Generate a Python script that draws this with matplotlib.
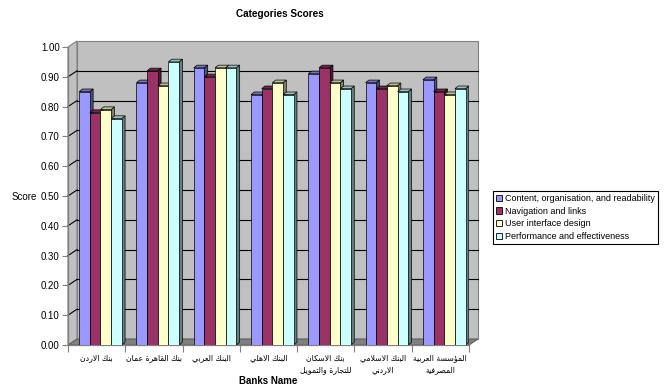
import matplotlib
matplotlib.use("Agg")
import matplotlib.pyplot as plt
from matplotlib.patches import Polygon, Patch
import numpy as np

# ---------------- data ----------------
banks = ["بنك الاردن", "بنك القاهرة عمان", "البنك العربي", "البنك الاهلي",
         "بنك الاسكان\nللتجارة والتمويل", "البنك الاسلامي\nالاردني",
         "المؤسسة العربية\nالمصرفية"]
series_names = ["Content, organisation, and readability", "Navigation and links",
                "User interface design", "Performance and effectiveness"]
content = [0.85, 0.88, 0.93, 0.84, 0.91, 0.88, 0.89]
navigation = [0.78, 0.92, 0.90, 0.86, 0.93, 0.86, 0.85]
interface = [0.79, 0.87, 0.93, 0.88, 0.88, 0.87, 0.84]
performance = [0.76, 0.95, 0.93, 0.84, 0.86, 0.85, 0.86]
yticks = [0.0, 0.1, 0.2, 0.3, 0.4, 0.5, 0.6, 0.7, 0.8, 0.9, 1.0]

face_colors = ["#9999FF", "#993366", "#FFFFCC", "#CCFFFF"]
side_colors = ["#4D4D80", "#4D1A33", "#808066", "#668080"]
top_colors = ["#7373BF", "#73264D", "#BFBF99", "#99BFBF"]

# ---------------- minimal Arabic shaping ----------------
FORMS = {  # isolated, final, initial, medial
    'ا': (0xFE8D, 0xFE8E, None, None), 'ب': (0xFE8F, 0xFE90, 0xFE91, 0xFE92),
    'ة': (0xFE93, 0xFE94, None, None), 'ت': (0xFE95, 0xFE96, 0xFE97, 0xFE98),
    'ج': (0xFE9D, 0xFE9E, 0xFE9F, 0xFEA0), 'د': (0xFEA9, 0xFEAA, None, None),
    'ر': (0xFEAD, 0xFEAE, None, None), 'س': (0xFEB1, 0xFEB2, 0xFEB3, 0xFEB4),
    'ص': (0xFEB9, 0xFEBA, 0xFEBB, 0xFEBC), 'ع': (0xFEC9, 0xFECA, 0xFECB, 0xFECC),
    'ف': (0xFED1, 0xFED2, 0xFED3, 0xFED4), 'ق': (0xFED5, 0xFED6, 0xFED7, 0xFED8),
    'ك': (0xFED9, 0xFEDA, 0xFEDB, 0xFEDC), 'ل': (0xFEDD, 0xFEDE, 0xFEDF, 0xFEE0),
    'م': (0xFEE1, 0xFEE2, 0xFEE3, 0xFEE4), 'ن': (0xFEE5, 0xFEE6, 0xFEE7, 0xFEE8),
    'ه': (0xFEE9, 0xFEEA, 0xFEEB, 0xFEEC), 'و': (0xFEED, 0xFEEE, None, None),
    'ي': (0xFEF1, 0xFEF2, 0xFEF3, 0xFEF4), 'ؤ': (0xFE85, 0xFE86, None, None),
    'لا': (0xFEFB, 0xFEFC, None, None),
}


def shape_line(s):
    toks = []
    i = 0
    while i < len(s):
        if s[i] == 'ل' and i + 1 < len(s) and s[i + 1] == 'ا':
            toks.append('لا')
            i += 2
        else:
            toks.append(s[i])
            i += 1
    out = []
    for j, t in enumerate(toks):
        if t not in FORMS:
            out.append(t)
            continue
        prev = toks[j - 1] if j > 0 else None
        nxt = toks[j + 1] if j + 1 < len(toks) else None
        jp = prev in FORMS and FORMS[prev][2] is not None
        jn = nxt in FORMS and FORMS[t][2] is not None
        iso, fin, ini, med = FORMS[t]
        if jp and jn:
            c = med
        elif jp:
            c = fin
        elif jn:
            c = ini
        else:
            c = iso
        out.append(chr(c))
    return ''.join(out)[::-1]


def shape(s):
    return "\n".join(shape_line(l) for l in s.split("\n"))


# ---------------- figure ----------------
W, H = 665, 387
fig = plt.figure(figsize=(W / 100, H / 100), dpi=100)
plt.rcParams['font.family'] = ['Liberation Sans', 'DejaVu Sans']

x0, x1, y0, y1 = 68, 469, 345, 47
ax = fig.add_axes([x0 / W, (H - y0) / H, (x1 - x0) / W, (y0 - y1) / H])
n = len(banks)
ax.set_xlim(0, n)
ax.set_ylim(0, 1)
ppx = (x1 - x0) / n
ppy = (y0 - y1)
dxw, dyw = 9 / ppx, 6 / ppy     # wall depth offset
dxb, dyb = 3.3 / ppx, 2.7 / ppy  # bar depth offset

for s in ax.spines.values():
    s.set_visible(False)

# walls
ax.add_patch(Polygon([(dxw, dyw), (n + dxw, dyw), (n + dxw, 1 + dyw), (dxw, 1 + dyw)],
                     closed=True, fc="#C0C0C0", ec="#808080", lw=0.8, zorder=0, clip_on=False))
ax.add_patch(Polygon([(0, 0), (dxw, dyw), (dxw, 1 + dyw), (0, 1)],
                     closed=True, fc="#C0C0C0", ec="#808080", lw=0.8, zorder=0, clip_on=False))
ax.add_patch(Polygon([(0, 0), (n, 0), (n + dxw, dyw), (dxw, dyw)],
                     closed=True, fc="#808080", ec="#606060", lw=0.8, zorder=0.5, clip_on=False))
for v in yticks[1:-1]:
    ax.plot([dxw, n + dxw], [v + dyw, v + dyw], color="black", lw=0.8, zorder=0.6, clip_on=False)
    ax.plot([0, dxw], [v, v + dyw], color="black", lw=0.8, zorder=0.6, clip_on=False)

# front axes lines
ax.plot([0, 0], [0, 1], color="#808080", lw=0.9, zorder=0.7, clip_on=False)
ax.plot([0, n], [0, 0], color="#808080", lw=0.9, zorder=0.7, clip_on=False)

# bars
series = [content, navigation, interface, performance]
bw = 0.186
start = 0.195
z = 1.0
for gi in range(n):
    for k, vals in enumerate(series):
        xl = gi + start + k * bw
        v = vals[gi]
        ax.bar(xl, v, width=bw, align='edge', color=face_colors[k], edgecolor="black",
               lw=0.5, zorder=z + 0.2)
        ax.add_patch(Polygon([(xl + bw, 0), (xl + bw + dxb, dyb), (xl + bw + dxb, v + dyb), (xl + bw, v)],
                             closed=True, fc=side_colors[k], ec="black", lw=0.5, zorder=z))
        ax.add_patch(Polygon([(xl, v), (xl + bw, v), (xl + bw + dxb, v + dyb), (xl + dxb, v + dyb)],
                             closed=True, fc=top_colors[k], ec="black", lw=0.5, zorder=z))
        z += 1

# ticks
ax.set_yticks(yticks)
ax.set_yticklabels([f"{v:.2f}" for v in yticks], fontsize=7)
ax.tick_params(axis='y', length=4, width=0.8, color="#808080", pad=2)
ax.set_xticks(np.arange(0, n + 1))
ax.set_xticklabels([])
ax.tick_params(axis='x', length=5, width=0.8, color="#808080")

for i, b in enumerate(banks):
    ax.text(i + 0.5, -0.027, shape(b), ha='center', va='top', fontsize=5.6,
            family=['DejaVu Sans'], linespacing=1.45, transform=ax.transData, clip_on=False)

fig.text(280 / W, 1 - 14 / H, "Categories Scores", ha='center', va='center',
         fontsize=7.2, fontweight='bold')
fig.text(24 / W, 1 - 197 / H, "Score", ha='center', va='center', fontsize=7)
fig.text(268 / W, 1 - 381 / H, "Banks Name", ha='center', va='center', fontsize=7, fontweight='bold')

handles = [Patch(fc=c, ec="black", lw=0.6) for c in face_colors]
leg = fig.legend(handles, series_names, loc='upper left',
                 bbox_to_anchor=(493 / W, 1 - 191 / H), fontsize=6.5, frameon=True,
                 fancybox=False, edgecolor="black", framealpha=1, borderpad=0.35,
                 handlelength=0.7, handleheight=0.7, handletextpad=0.3, labelspacing=0.4,
                 borderaxespad=0)
leg.get_frame().set_linewidth(0.8)

fig.savefig("out.png", dpi=100)
